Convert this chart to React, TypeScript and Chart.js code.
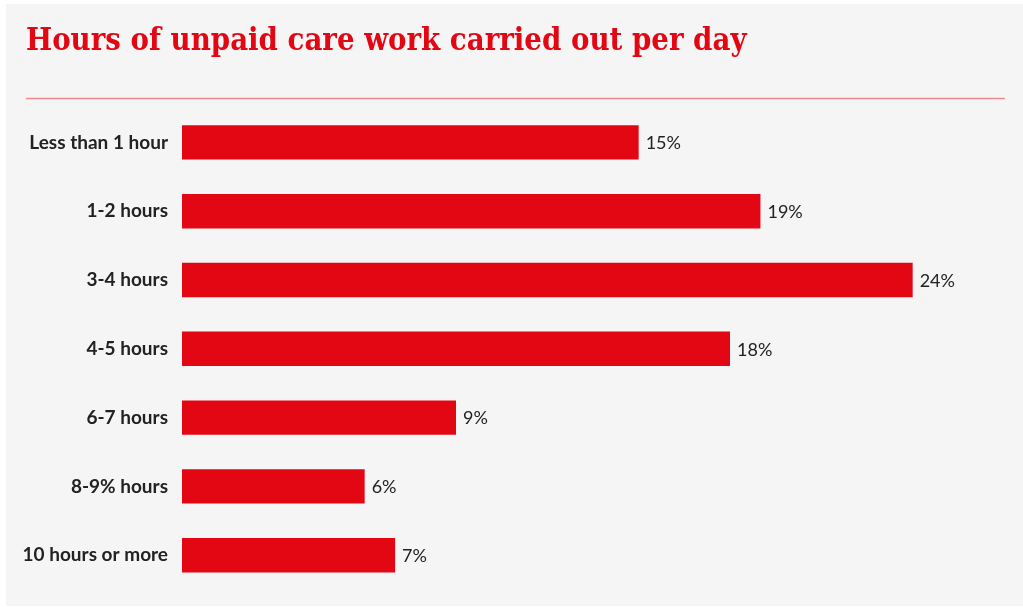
import React, { useEffect, useRef } from "react";
import { Chart, registerables } from "chart.js";

Chart.register(...registerables);

const categories = [
  "Less than 1 hour",
  "1-2 hours",
  "3-4 hours",
  "4-5 hours",
  "6-7 hours",
  "8-9% hours",
  "10 hours or more",
];
const shares = [15, 19, 24, 18, 9, 6, 7];
const valueLabels = ["15%", "19%", "24%", "18%", "9%", "6%", "7%"];
const titleText = "Hours of unpaid care work carried out per day";

const RED = "#e30613";

const decorPlugin = {
  id: "decor",
  beforeDraw(chart: any) {
    const ctx = chart.ctx;
    ctx.save();
    // title
    let size = 40;
    const fam = `"DejaVu Serif Condensed", "DejaVu Serif"`;
    ctx.font = `bold ${size}px ${fam}`;
    const w = ctx.measureText(titleText).width;
    size = Math.min(34, (size * 721) / w);
    ctx.font = `bold ${size}px ${fam}`;
    ctx.fillStyle = RED;
    ctx.textBaseline = "alphabetic";
    ctx.textAlign = "left";
    ctx.fillText(titleText, 26, 50);
    // rule
    ctx.strokeStyle = "#f08a8f";
    ctx.lineWidth = 1.5;
    ctx.beginPath();
    ctx.moveTo(26, 98.5);
    ctx.lineTo(1005, 98.5);
    ctx.stroke();
    ctx.restore();
  },
  afterDatasetsDraw(chart: any) {
    const ctx = chart.ctx;
    const meta = chart.getDatasetMeta(0);
    ctx.save();
    ctx.font = `18px Lato`;
    ctx.fillStyle = "#222";
    ctx.textBaseline = "middle";
    ctx.textAlign = "left";
    meta.data.forEach((bar: any, i: number) => {
      ctx.fillText(valueLabels[i], bar.x + 7, bar.y + 1);
    });
    ctx.restore();
  },
};

export default function App() {
  const ref = useRef<HTMLCanvasElement>(null);
  useEffect(() => {
    document.body.style.margin = "0";
    const chart = new Chart(ref.current!, {
      type: "bar",
      data: {
        labels: categories,
        datasets: [
          {
            data: shares,
            backgroundColor: RED,
            borderWidth: 0,
            categoryPercentage: 1,
            barPercentage: 0.5,
          },
        ],
      },
      options: {
        indexAxis: "y",
        animation: false,
        responsive: false,
        maintainAspectRatio: false,
        layout: { padding: { top: 108, bottom: 15, left: 0, right: 19 } },
        plugins: {
          legend: { display: false },
          tooltip: { enabled: false },
          title: { display: false },
        },
        scales: {
          x: { display: false, min: 0, max: 27 },
          y: {
            grid: { display: false },
            border: { display: false },
            ticks: {
              padding: 6,
              color: "#222",
              font: { family: "Lato", size: 19, weight: "bold" },
            },
            afterFit(scale: any) {
              scale.width = 182;
            },
          },
        },
      },
      plugins: [decorPlugin],
    });
    return () => chart.destroy();
  }, []);
  return (
    <div style={{ position: "relative", width: 1023, height: 607 }}>
      <div
        style={{
          position: "absolute",
          left: 6,
          top: 4,
          width: 1017,
          height: 602,
          background: "#f5f5f5",
        }}
      />
      <canvas
        ref={ref}
        width={1023}
        height={607}
        style={{ position: "absolute", left: 0, top: 0 }}
      />
    </div>
  );
}
